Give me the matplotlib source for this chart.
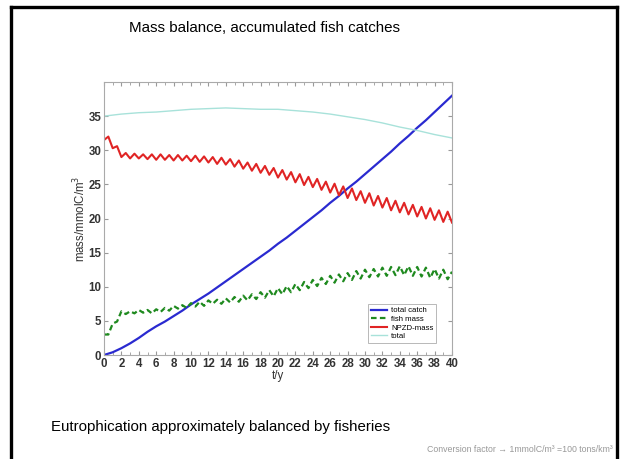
import numpy as np
import matplotlib
matplotlib.use("Agg")
import matplotlib.pyplot as plt
from matplotlib.lines import Line2D
from matplotlib.ticker import MultipleLocator

plt.rcParams['font.family'] = ['Liberation Sans', 'DejaVu Sans']

# accumulated catch, yearly
t_catch = np.arange(0, 41, 1)
total_catch = [0.0, 0.4, 1.0, 1.7, 2.5, 3.4, 4.2, 4.9, 5.7, 6.5,
               7.4, 8.2, 9.0, 9.9, 10.8, 11.7, 12.6, 13.5, 14.4, 15.3,
               16.3, 17.2, 18.2, 19.2, 20.2, 21.2, 22.3, 23.3, 24.4, 25.4,
               26.5, 27.6, 28.7, 29.8, 31.0, 32.1, 33.3, 34.4, 35.6, 36.8,
               38.0]

# fish and NPZD mass, half-yearly (seasonal cycle)
t_half = np.arange(0, 40.5, 0.5)
fish_mass = [3.0, 3.0, 4.6, 4.9, 6.4, 6.0, 6.4, 6.1, 6.6, 6.2,
             6.6, 6.1, 6.7, 6.3, 6.9, 6.5, 7.2, 6.8, 7.3, 6.9,
             7.6, 7.1, 7.8, 7.2, 8.0, 7.5, 8.1, 7.5, 8.3, 7.7,
             8.5, 7.8, 8.7, 8.0, 8.9, 8.2, 9.2, 8.4, 9.5, 8.6,
             9.8, 8.9, 10.1, 9.2, 10.4, 9.5, 10.7, 9.8, 11.0, 10.1,
             11.3, 10.4, 11.6, 10.6, 11.8, 10.8, 12.0, 11.0, 12.3, 11.2,
             12.5, 11.4, 12.6, 11.5, 12.8, 11.6, 12.9, 11.7, 13.0, 11.7,
             13.0, 11.6, 12.9, 11.5, 12.8, 11.3, 12.6, 11.2, 12.5, 11.1,
             12.2]
npzd_mass = [31.5, 32.0, 30.3, 30.6, 29.0, 29.6, 28.8, 29.5, 28.8, 29.4,
             28.7, 29.4, 28.6, 29.4, 28.6, 29.3, 28.5, 29.3, 28.5, 29.2,
             28.4, 29.2, 28.3, 29.1, 28.2, 29.0, 28.0, 28.9, 27.9, 28.7,
             27.6, 28.5, 27.3, 28.2, 27.0, 28.0, 26.7, 27.7, 26.4, 27.4,
             26.0, 27.1, 25.7, 26.8, 25.3, 26.5, 24.9, 26.1, 24.6, 25.8,
             24.2, 25.4, 23.8, 25.1, 23.4, 24.7, 23.0, 24.4, 22.7, 24.0,
             22.3, 23.7, 21.9, 23.3, 21.6, 23.0, 21.2, 22.6, 20.9, 22.3,
             20.6, 22.0, 20.3, 21.7, 20.0, 21.5, 19.8, 21.2, 19.5, 21.0,
             19.4]

# total mass, every two years
t_total = np.arange(0, 42, 2)
total_mass = [35.0, 35.3, 35.5, 35.6, 35.8, 36.0, 36.1, 36.2, 36.1, 36.0,
              36.0, 35.8, 35.6, 35.3, 34.9, 34.5, 34.0, 33.4, 32.9, 32.3,
              31.8]

series_names = ['total catch', 'fish mass', 'NPZD-mass', 'total']
x_ticks = np.arange(0, 41, 2)
y_ticks = np.arange(0, 36, 5)

fig = plt.figure(figsize=(6.21, 4.59), dpi=100)

# slide frame
frame_kw = dict(color='black', lw=2.4, solid_capstyle='projecting')
fig.add_artist(Line2D([0.0177, 0.9936], [0.9847, 0.9847], transform=fig.transFigure, **frame_kw))
fig.add_artist(Line2D([0.0177, 0.0177], [-0.02, 0.9847], transform=fig.transFigure, **frame_kw))
fig.add_artist(Line2D([0.9936, 0.9936], [-0.02, 0.9847], transform=fig.transFigure, **frame_kw))

fig.text(129 / 621, 1 - 28 / 459, 'Mass balance, accumulated fish catches',
         fontsize=10.9, ha='left', va='center', color='black')
fig.text(51 / 621, 1 - 427 / 459, 'Eutrophication approximately balanced by fisheries',
         fontsize=10.8, ha='left', va='center', color='black')
fig.text(613 / 621, 1 - 449 / 459, 'Conversion factor \u2192 1mmolC/m\u00b3 =100 tons/km\u00b3',
         fontsize=6.3, ha='right', va='center', color='#999999')

ax = fig.add_axes([104 / 621, 1 - 355 / 459, 348 / 621, 273 / 459])

ax.plot(t_catch, total_catch, color='#2a2ad0', lw=1.6, label=series_names[0])
ax.plot(t_half, fish_mass, color='#1f8a1f', lw=1.6, ls=(0, (2.5, 1.5)), label=series_names[1])
ax.plot(t_half, npzd_mass, color='#e02424', lw=1.5, label=series_names[2])
ax.plot(t_total, total_mass, color='#a8e2da', lw=1.0, label=series_names[3])

ax.set_xlim(0, 40)
ax.set_ylim(0, 40)
ax.set_xticks(x_ticks)
ax.set_yticks(y_ticks)
ax.xaxis.set_minor_locator(MultipleLocator(1))
ax.tick_params(which='both', direction='in', top=True, right=True,
               colors='#999999', labelcolor='#333333', labelsize=8.3, pad=2)
ax.tick_params(which='major', length=3)
ax.tick_params(which='minor', length=2)
for lbl in ax.get_xticklabels() + ax.get_yticklabels():
    lbl.set_fontweight('bold')
for sp in ax.spines.values():
    sp.set_color('#aaaaaa')
    sp.set_linewidth(0.8)

ax.set_xlabel('t/y', fontsize=8.3, color='#333333', labelpad=0)
ax.set_ylabel('mass/mmolC/m$^3$', fontsize=8.3, color='#333333', labelpad=0)

leg = ax.legend(loc='lower right', fontsize=5.6, frameon=True, fancybox=False,
                borderpad=0.35, handlelength=2.1, handletextpad=0.5,
                labelspacing=0.15, bbox_to_anchor=(0.966, 0.03))
leg.get_frame().set_edgecolor('#999999')
leg.get_frame().set_linewidth(0.6)

fig.savefig('out.png', dpi=100)
